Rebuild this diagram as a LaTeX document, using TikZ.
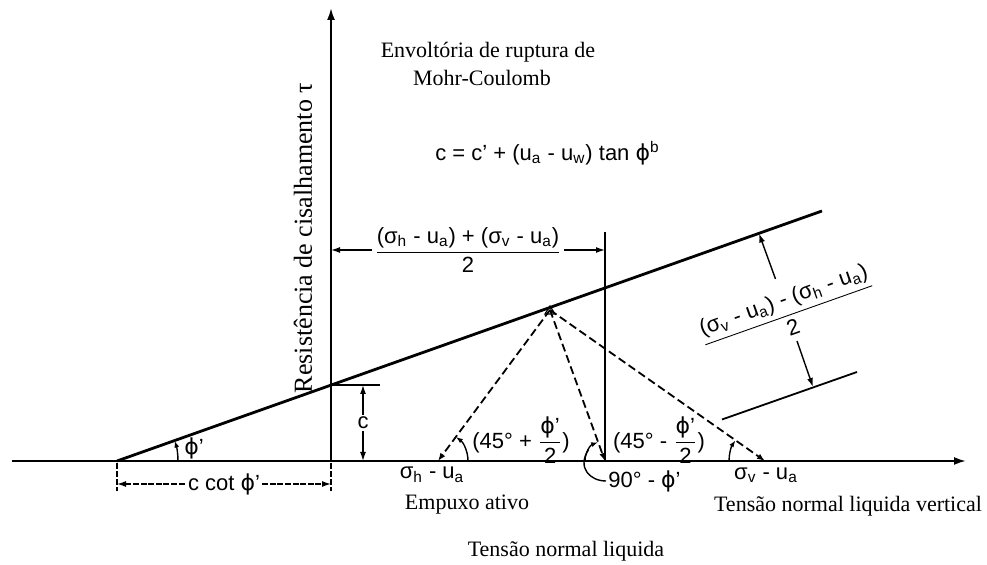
\documentclass[tikz,border=0pt]{standalone}
\usepackage{fontspec}
\usepackage{amsmath}
\setmainfont{Liberation Serif}
\setsansfont{Liberation Sans}
\newfontfamily\phifont{DejaVu Sans}
\usetikzlibrary{arrows.meta,calc}
\newcommand{\dimfrac}[2]{$\dfrac{\text{#1}}{\text{#2}}$}
\newcommand{\su}[1]{\textsubscript{#1}}
\newcommand{\fip}{{\phifont ϕ}}

\begin{document}
\begin{tikzpicture}[x=0.5pt,y=-0.5pt,
  txt/.style={font=\fontsize{11}{13}\selectfont,inner sep=1pt},
  sflbl/.style={font=\sffamily\fontsize{11}{13}\selectfont,inner sep=1pt},
  axis/.style={line width=1pt,-{Latex[length=6pt,width=4pt]}},
  envl/.style={line width=1.4pt},
  dashln/.style={line width=0.9pt,dash pattern=on 4pt off 2pt,-{Latex[length=4pt,width=3pt]}},
  dimarr/.style={line width=0.7pt,{Latex[length=4.5pt,width=3pt]}-{Latex[length=4.5pt,width=3pt]}},
  onearr/.style={line width=0.7pt,-{Latex[length=4.5pt,width=3pt]}},
  angarr/.style={line width=0.7pt,-{Latex[length=3.5pt,width=2.5pt]}},
  tickln/.style={line width=0.7pt},
]
\useasboundingbox (0,0) rectangle (987,565);

\coordinate (xs) at (12,461);
\coordinate (xe) at (966,461);
\coordinate (O) at (331,461);
\coordinate (ye) at (331,8);
\coordinate (A) at (117,461);
\coordinate (E) at (822,211);
\coordinate (P) at (331,385);
\coordinate (Pt) at (380,385);
\coordinate (C) at (605,461);
\coordinate (Ct) at (605,232);
\coordinate (T) at (550,310);
\coordinate (H) at (438,461);
\coordinate (V) at (765,461);
\coordinate (dL) at (331,250);
\coordinate (dR) at (605,250);
\coordinate (ccL) at (117,484);
\coordinate (ccR) at (331,484);
\coordinate (cT) at (363,385);
\coordinate (cB) at (363,461);
\coordinate (L1) at (722,419.5);
\coordinate (L2) at (857,372);
\coordinate (rUs) at (775.5,279);
\coordinate (rU) at (759,233.5);
\coordinate (rLs) at (797,341);
\coordinate (rL) at (813,387);

\draw[axis] (xs) -- (xe);
\draw[axis] (O) -- (ye);
\draw[envl] (A) -- (E);
\draw[line width=0.9pt] (Ct) -- (C);
\draw[line width=0.9pt] (L1) -- (L2);

\draw[dashln] (T) -- (H);
\draw[dashln] (T) -- (C);
\draw[dashln] (T) -- (V);
\draw[line width=0.6pt] ($(T)+(-5,4)$) -- ($(T)+(5,4)$) -- ($(T)+(0,-4)$) -- cycle;

\draw[dimarr] (dL) -- node[sflbl,fill=white] (dfrac)
  {\dimfrac{(σ\su{h} - u\su{a}) + (σ\su{v} - u\su{a})}{2}} (dR);
\draw[dimarr,dash pattern=on 3pt off 0.8pt] (ccL) -- node[sflbl,fill=white] (ccot) {c cot \fip’} (ccR);
\draw[tickln,dash pattern=on 3pt off 1pt] ($(A)+(0,2)$) -- ($(A)+(0,30)$);
\draw[tickln,dash pattern=on 3pt off 1pt] ($(O)+(0,2)$) -- ($(O)+(0,30)$);
\draw[tickln] (P) -- (Pt);
\draw[dimarr] (cT) -- node[sflbl,fill=white] (clbl) {c} (cB);

\draw[onearr] (rUs) -- (rU);
\draw[onearr] (rLs) -- (rL);
\node[sflbl,rotate=19.5] (rfrac) at (788,313)
  {\dimfrac{(σ\su{v} - u\su{a}) - (σ\su{h} - u\su{a})}{2}};

\draw[angarr] ($(A)+(0:30.5pt)$) arc[start angle=0,end angle=19.5,radius=30.5pt];
\draw[angarr] ($(H)+(0:15pt)$) arc[start angle=0,end angle=53.5,radius=15pt];
\draw[angarr] ($(V)+(180:18pt)$) arc[start angle=180,end angle=145,radius=18pt];
\draw[angarr] ($(C)+(180:10pt)$) arc[start angle=180,end angle=110,radius=10pt];

\node[sflbl] (phiA) at (194,448) {\fip’};
\node[sflbl] (a45p) at (521,440) {(45° + \dimfrac{\fip’}{2})};
\node[sflbl] (a45m) at (659,440) {(45° - \dimfrac{\fip’}{2})};
\node[sflbl,anchor=west] (a90) at (606,481) {90° - \fip’};
\draw[tickln] ($(C)+(145:10pt)$) .. controls +(-6pt,-9pt) and +(-8pt,0pt) .. (a90.west);

\node[sflbl] (sh) at (432,475) {σ\su{h} - u\su{a}};
\node[sflbl] (sv) at (766,475) {σ\su{v} - u\su{a}};

\node[txt] (env1) at (488,52) {Envoltória de ruptura de};
\node[txt] (env2) at (482,78) {Mohr-Coulomb};
\node[sflbl,anchor=west] (ceq) at (433,153) {c = c’ + (u\su{a} - u\su{w}) tan \fip\textsuperscript{b}};
\node[txt,rotate=90,font=\fontsize{13}{15}\selectfont] (ylbl) at (303,238) {Resistência de cisalhamento τ};
\node[txt] (emp) at (467,505) {Empuxo ativo};
\node[txt] (tnv) at (848,506) {Tensão normal liquida vertical};
\node[txt] (tn) at (566,551) {Tensão normal liquida};
\end{tikzpicture}
\end{document}
